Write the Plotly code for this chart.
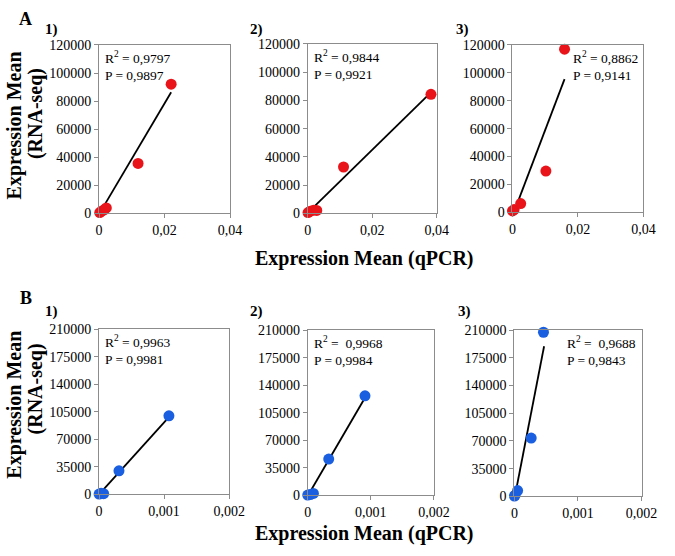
import plotly.graph_objects as go

# ---- data ----
a1_x = [0.0002, 0.0008, 0.0015, 0.0022, 0.0119, 0.0220]
a1_y = [500, 1500, 2500, 3800, 35500, 92000]
a1_fit_x = [0.0004, 0.0220]
a1_fit_y = [1000, 86300]

a2_x = [0.0001, 0.0008, 0.0018, 0.0028, 0.0111, 0.0382]
a2_y = [500, 1500, 2200, 2000, 32800, 84300]
a2_fit_x = [0.0004, 0.0378]
a2_fit_y = [1200, 84800]

a3_x = [0.0000, 0.0005, 0.0025, 0.0102, 0.0159]
a3_y = [1000, 2000, 6300, 29600, 117000]
a3_fit_x = [0.0006, 0.0159]
a3_fit_y = [1000, 95500]

b1_x = [0.00000, 0.00003, 0.00007, 0.000306, 0.001074]
b1_y = [500, 1500, 1000, 30000, 99900]
b1_fit_x = [0.00001, 0.00107]
b1_fit_y = [1200, 97800]

b2_x = [0.00000, 0.00004, 0.00009, 0.000333, 0.000908]
b2_y = [500, 1200, 2500, 46200, 126500]
b2_fit_x = [0.00002, 0.000908]
b2_fit_y = [2100, 124000]

b3_x = [0.00000, 0.00001, 0.00005, 0.000264, 0.000457]
b3_y = [500, 1500, 7400, 73700, 207200]
b3_fit_x = [0.00001, 0.000467]
b3_fit_y = [1200, 189600]

a_yticks = [0, 20000, 40000, 60000, 80000, 100000, 120000]
a_yticktext = ["0", "20000", "40000", "60000", "80000", "100000", "120000"]
a_xticks = [0, 0.02, 0.04]
a_xticktext = ["0", "0,02", "0,04"]
b_yticks = [0, 35000, 70000, 105000, 140000, 175000, 210000]
b_yticktext = ["0", "35000", "70000", "105000", "140000", "175000", "210000"]
b_xticks = [0, 0.001, 0.002]
b_xticktext = ["0", "0,001", "0,002"]

stats = [("R<sup>2</sup> = 0,9797", "P = 0,9897"),
         ("R<sup>2</sup> = 0,9844", "P = 0,9921"),
         ("R<sup>2</sup> = 0,8862", "P = 0,9141"),
         ("R<sup>2</sup> = 0,9963", "P = 0,9981"),
         ("R<sup>2</sup> =  0,9968", "P = 0,9984"),
         ("R<sup>2</sup> =  0,9688", "P = 0,9843")]

RED = "#e8141a"
BLUE = "#1a5fe0"
W, H = 675, 556
FONT = "Liberation Serif, Times New Roman, serif"

# panel frames in pixels: (x0, x1, ytop, ybottom)
frames = [(98, 233, 39, 212), (313, 446, 38, 212), (524, 659, 39, 211),
          (98, 232, 331, 501), (313, 443, 332, 502), (526, 657, 332, 503)]

panels = [
    (a1_x, a1_y, a1_fit_x, a1_fit_y, RED, "A"),
    (a2_x, a2_y, a2_fit_x, a2_fit_y, RED, "A"),
    (a3_x, a3_y, a3_fit_x, a3_fit_y, RED, "A"),
    (b1_x, b1_y, b1_fit_x, b1_fit_y, BLUE, "B"),
    (b2_x, b2_y, b2_fit_x, b2_fit_y, BLUE, "B"),
    (b3_x, b3_y, b3_fit_x, b3_fit_y, BLUE, "B"),
]
label_dx = [58, 62, 60]

fig = go.Figure()
layout = dict(width=W, height=H, margin=dict(l=0, r=0, t=0, b=0),
              paper_bgcolor="white", plot_bgcolor="white", showlegend=False,
              font=dict(family=FONT, color="black", size=14))
annotations = []

for i, (px, py, fx, fy, col, row) in enumerate(panels):
    n = i + 1
    xa = "x" if n == 1 else f"x{n}"
    ya = "y" if n == 1 else f"y{n}"
    x0, x1, yt, yb = frames[i]
    if row == "A":
        xr, yr = [0, 0.04], [0, 120000]
        xtv, xtt, ytv, ytt = a_xticks, a_xticktext, a_yticks, a_yticktext
        label_y = 23
    else:
        xr, yr = [0, 0.002], [0, 210000]
        xtv, xtt, ytv, ytt = b_xticks, b_xticktext, b_yticks, b_yticktext
        label_y = 313
    fig.add_trace(go.Scatter(x=fx, y=fy, mode="lines", xaxis=xa, yaxis=ya,
                             line=dict(color="black", width=1.8), cliponaxis=False))
    fig.add_trace(go.Scatter(x=px, y=py, mode="markers", xaxis=xa, yaxis=ya,
                             marker=dict(color=col, size=11), cliponaxis=False))
    axcommon = dict(showgrid=False, zeroline=False, showline=True, mirror=True,
                    linecolor="#8c8c8c", linewidth=1, ticks="outside", ticklen=4,
                    tickcolor="#8c8c8c", tickfont=dict(family=FONT, size=14, color="black"),
                    tickmode="array", fixedrange=True)
    kx = "xaxis" if n == 1 else f"xaxis{n}"
    ky = "yaxis" if n == 1 else f"yaxis{n}"
    layout[kx] = dict(axcommon, domain=[x0 / W, x1 / W], range=xr, tickvals=xtv,
                      ticktext=xtt, anchor=ya)
    layout[ky] = dict(axcommon, domain=[1 - yb / H, 1 - yt / H], range=yr, tickvals=ytv,
                      ticktext=ytt, anchor=xa, ticklabelstandoff=0)
    r2, p = stats[i]
    if i in (2, 5):
        xpos = (x1 - 4) / W
        anc = "right"
    else:
        xpos = (x0 + 4) / W
        anc = "left"
    annotations.append(dict(text=r2 + "<br>" + p, xref="paper", yref="paper",
                            x=xpos, y=1 - (yt + 2) / H, xanchor=anc, yanchor="top",
                            showarrow=False, align="left",
                            font=dict(family=FONT, size=13.5, color="black")))
    annotations.append(dict(text=f"<b>{(i % 3) + 1})</b>", xref="paper", yref="paper",
                            x=(x0 - label_dx[i % 3]) / W, y=1 - label_y / H,
                            xanchor="left", yanchor="middle",
                            showarrow=False, font=dict(family=FONT, size=15)))

# row letters
annotations.append(dict(text="<b>A</b>", xref="paper", yref="paper", x=13 / W, y=1 - 12 / H,
                        xanchor="left", yanchor="middle", showarrow=False,
                        font=dict(family=FONT, size=18)))
annotations.append(dict(text="<b>B</b>", xref="paper", yref="paper", x=14 / W, y=1 - 299 / H,
                        xanchor="left", yanchor="middle", showarrow=False,
                        font=dict(family=FONT, size=18)))
# y axis titles
for yc1, yc2 in ((122, 110), (409, 393)):
    annotations.append(dict(text="<b>Expression Mean</b>", xref="paper", yref="paper",
                            x=11 / W, y=1 - yc1 / H, xanchor="center", yanchor="middle",
                            textangle=-90, showarrow=False, font=dict(family=FONT, size=20)))
    annotations.append(dict(text="<b>(RNA-seq)</b>", xref="paper", yref="paper",
                            x=32 / W, y=1 - yc2 / H, xanchor="center", yanchor="middle",
                            textangle=-90, showarrow=False, font=dict(family=FONT, size=20)))
# x axis titles
for yc in (258, 541):
    annotations.append(dict(text="<b>Expression Mean (qPCR)</b>", xref="paper", yref="paper",
                            x=371 / W, y=1 - yc / H, xanchor="center", yanchor="middle",
                            showarrow=False, font=dict(family=FONT, size=20)))

layout["annotations"] = annotations
fig.update_layout(**layout)
fig.write_html("out.html", config={"displayModeBar": False},
               post_script="document.body.style.margin='0';document.body.style.overflow='hidden';")
